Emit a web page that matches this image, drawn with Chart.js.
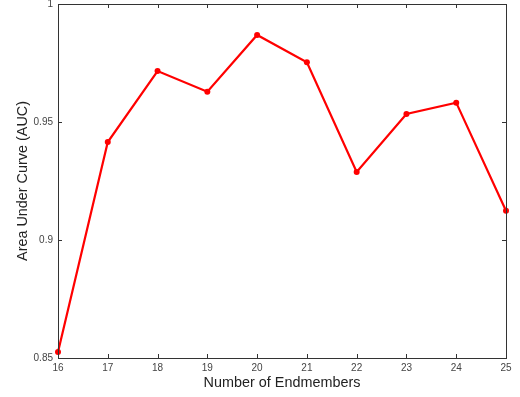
<!DOCTYPE html>
<html>
<head>
<meta charset="utf-8">
<script src="https://cdn.jsdelivr.net/npm/chart.js@4"></script>
<style>
  html, body { margin: 0; padding: 0; background: #fff; }
  #wrap { width: 520px; height: 397px; }
</style>
</head>
<body>
<div id="wrap"><canvas id="aucChart" width="520" height="397"></canvas></div>
<script>
const endmembers = [16, 17, 18, 19, 20, 21, 22, 23, 24, 25];
const aucValues = [0.8525, 0.9415, 0.9716, 0.9628, 0.9869, 0.9753, 0.9288, 0.9534, 0.9582, 0.9124];
const yTicks = [0.85, 0.9, 0.95, 1];

// frame round the plot with small inward ticks on every side
const boxPlugin = {
    id: 'boxFrame',
    afterDraw(chart) {
        const ctx = chart.ctx;
        const a = chart.chartArea;
        const xs = chart.scales.x, ys = chart.scales.y;
        ctx.save();
        ctx.strokeStyle = '#333';
        ctx.lineWidth = 1;
        ctx.strokeRect(Math.round(a.left) + 0.5, Math.round(a.top) + 0.5,
            Math.round(a.right - a.left), Math.round(a.bottom - a.top));
        ctx.beginPath();
        endmembers.forEach(function(v) {
            const px = Math.round(xs.getPixelForValue(v)) + 0.5;
            ctx.moveTo(px, a.bottom); ctx.lineTo(px, a.bottom - 4);
            ctx.moveTo(px, a.top); ctx.lineTo(px, a.top + 4);
        });
        yTicks.forEach(function(v) {
            const py = Math.round(ys.getPixelForValue(v)) + 0.5;
            ctx.moveTo(a.left, py); ctx.lineTo(a.left + 4, py);
            ctx.moveTo(a.right, py); ctx.lineTo(a.right - 4, py);
        });
        ctx.stroke();
        ctx.restore();
    }
};

new Chart(document.getElementById('aucChart').getContext('2d'), {
    type: 'line',
    data: {
        datasets: [{
            data: endmembers.map(function(n, i) { return { x: n, y: aucValues[i] }; }),
            borderColor: '#ff0000',
            backgroundColor: '#ff0000',
            borderWidth: 2.2,
            pointRadius: 3,
            pointBorderWidth: 0,
            tension: 0,
            clip: false
        }]
    },
    options: {
        responsive: false,
        animation: false,
        layout: { padding: { top: 4, right: 14, left: 14, bottom: 5 } },
        plugins: { legend: { display: false }, tooltip: { enabled: false } },
        scales: {
            x: {
                type: 'linear',
                min: 16,
                max: 25,
                afterBuildTicks: function(s) { s.ticks = endmembers.map(function(v) { return { value: v }; }); },
                afterFit: function(s) { s.height = 34; s.paddingLeft = 0; s.paddingRight = 0; },
                grid: { display: false, drawTicks: false },
                border: { display: false },
                ticks: { color: '#444', font: { family: 'Liberation Sans', size: 10 }, padding: 4, maxRotation: 0 },
                title: { display: true, text: 'Number of Endmembers', color: '#222',
                         font: { family: 'Liberation Sans', size: 14.4 }, padding: { top: 0, bottom: 0 } }
            },
            y: {
                min: 0.85,
                max: 1,
                afterBuildTicks: function(s) { s.ticks = yTicks.map(function(v) { return { value: v }; }); },
                afterFit: function(s) { s.width = 44; s.paddingTop = 0; s.paddingBottom = 0; },
                grid: { display: false, drawTicks: false },
                border: { display: false },
                ticks: { color: '#444', font: { family: 'Liberation Sans', size: 10 }, padding: 5,
                         callback: function(v) { return String(v); } },
                title: { display: true, text: 'Area Under Curve (AUC)', color: '#222',
                         font: { family: 'Liberation Sans', size: 14.4 }, padding: { top: 0, bottom: 4 } }
            }
        }
    },
    plugins: [boxPlugin]
});
</script>
</body>
</html>
